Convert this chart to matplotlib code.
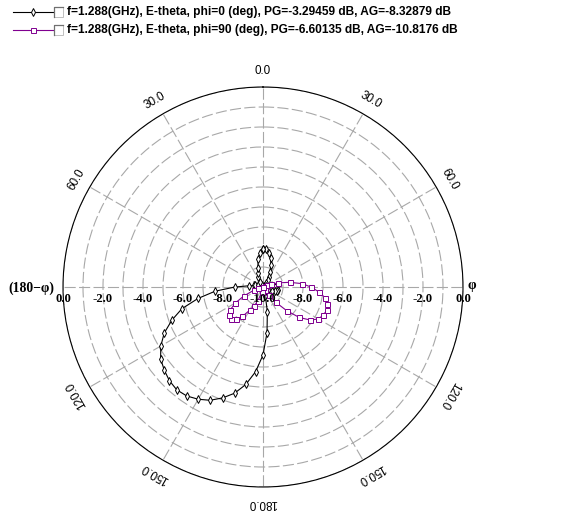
import numpy as np
import matplotlib
matplotlib.use("Agg")
import matplotlib.pyplot as plt
from matplotlib.lines import Line2D
from matplotlib.patches import Rectangle
from matplotlib.transforms import ScaledTranslation

# Pattern angle, clockwise from top (deg); right half = phi plane, left half = (180-phi)
angles_deg = np.arange(0, 360, 5)

# E-theta gain (dB), phi=0 cut
gain_phi0 = [
    -8.10, -8.10, -8.25, -8.50, -8.85, -9.15, -9.40, -9.60, -9.75, -9.90,
    -10.5, -11.0, -11.5, -11.0, -10.5, -9.85, -9.70, -9.50, -9.38, -9.30,
    -9.25, -9.28, -9.35, -9.50, -9.70, -9.90, -10.8, -11.5, -12.0, -11.5,
    -11.0, -10.5, -9.90, -9.55, -8.75, -7.70, -6.60, -5.75, -5.05, -4.50,
    -4.10, -3.75, -3.52, -3.35, -3.29, -3.38, -3.55, -3.75, -4.10, -4.55,
    -5.15, -5.80, -6.70, -7.60, -8.60, -9.30, -9.55, -9.60, -9.75, -10.3,
    -10.8, -11.2, -11.0, -10.6, -10.2, -9.90, -9.70, -9.45, -9.27, -9.03,
    -8.56, -8.30,
]

# E-theta gain (dB), phi=90 cut
gain_phi90 = [
    -11.5, -12.0, -12.5, -13.0, -12.5, -12.0, -11.5, -11.0, -10.7, -10.4,
    -10.2, -10.05, -9.90, -9.80, -9.60, -9.20, -8.65, -8.05, -7.60, -7.20,
    -6.83, -6.68, -6.60, -6.68, -6.80, -7.12, -7.63, -8.33, -9.00, -9.50,
    -9.80, -10.1, -10.5, -11.0, -11.5, -11.8, -11.5, -11.0, -10.4, -9.75,
    -9.28, -8.95, -8.65, -8.20, -7.90, -7.75, -7.80, -8.00, -8.40, -8.95,
    -9.50, -9.75, -10.2, -10.6, -11.0, -11.5, -12.0, -12.5, -13.0, -13.5,
    -14.0, -14.0, -13.5, -13.0, -12.5, -12.0, -11.8, -11.6, -11.5, -11.5,
    -11.5, -11.5,
]

legend_labels = [
    "f=1.288(GHz), E-theta, phi=0 (deg), PG=-3.29459 dB, AG=-8.32879 dB",
    "f=1.288(GHz), E-theta, phi=90 (deg), PG=-6.60135 dB, AG=-10.8176 dB",
]
series_colors = ["#000000", "#800090"]
series_markers = ["d", "s"]

r_min, r_max = -10.0, 0.0
ring_values = np.arange(-10, 1, 1)
radial_label_values = [0, -2, -4, -6, -8]
angle_label_values = [0, 30, 60, 120, 150, 180]

W, H = 565, 517
fig = plt.figure(figsize=(W / 100, H / 100), dpi=100)
fig.patch.set_facecolor("white")

# polar axes: centre (263, 287) px, radius 200 px
cx, cy, rad = 263, 287, 200
ax = fig.add_axes([(cx - rad) / W, (H - cy - rad) / H, 2 * rad / W, 2 * rad / H],
                  projection="polar")
ax.set_theta_zero_location("N")
ax.set_theta_direction(-1)
ax.set_rlim(r_min, r_max)
ax.set_rticks(ring_values)
ax.set_yticklabels([])
ax.set_thetagrids(np.arange(0, 360, 30), labels=[""] * 12)
ax.tick_params(axis="both", length=0, pad=0)
ax.grid(True, color="#A8A8A8", linewidth=0.8, linestyle=(0, (10, 3)))
ax.spines["polar"].set_color("black")
ax.spines["polar"].set_linewidth(0.8)
ax.set_facecolor("white")

gains = [gain_phi0, gain_phi90]
for g, col, mk in zip(gains, series_colors, series_markers):
    th = np.deg2rad(np.append(angles_deg, angles_deg[0]))
    rr = np.clip(np.append(g, g[0]), r_min, None)
    ax.plot(th, rr, color=col, linewidth=0.8, marker=mk, markersize=4 if mk == "d" else 3.6,
            markerfacecolor="white", markeredgecolor=col, markeredgewidth=0.7, zorder=3)

# radial (dB) labels along the horizontal axis, just below it
down = ax.transData + ScaledTranslation(0, -11.5 / 100, fig.dpi_scale_trans)
lab_font = dict(fontsize=9.2, fontweight="bold", family="Liberation Serif")
for v in radial_label_values:
    for side in (90, 270):
        ax.text(np.deg2rad(side), v, f"{v:.1f}", transform=down, ha="center", va="center",
                clip_on=False, **lab_font)
ax.text(0, r_min, "-10.0", transform=down, ha="center", va="center", clip_on=False, **lab_font)

# angle labels, rotated along the circle
r_lab = r_min + 215.5 / 20
for a in angle_label_values:
    for s in ([1] if a in (0, 180) else [1, -1]):
        ang = s * a
        ax.text(np.deg2rad(ang), r_lab, f"{a:.1f}", ha="center", va="center",
                rotation=-ang, rotation_mode="anchor", fontsize=8.4,
                family="Liberation Sans", clip_on=False)

fig.text(31 / W, 1 - 288 / H, "(180\u2212\u03c6)", ha="center", va="center",
         fontsize=9.8, fontweight="bold", family="Liberation Serif")
fig.text(472 / W, 1 - 286 / H, "\u03c6", ha="center", va="center",
         fontsize=10, fontweight="bold", family="Liberation Serif")

# legend rows at top-left
for i, (lab, col, mk) in enumerate(zip(legend_labels, series_colors, series_markers)):
    y = 1 - (12 + 18 * i) / H
    fig.add_artist(Line2D([13 / W, 53 / W], [y, y], color=col, linewidth=0.8,
                          transform=fig.transFigure))
    fig.add_artist(Line2D([33 / W], [y], color=col, marker=mk,
                          markersize=4 if mk == "d" else 3.6, markerfacecolor="white",
                          markeredgecolor=col, markeredgewidth=0.7, transform=fig.transFigure))
    bx0, by0 = 54 / W, 1 - (12 + 18 * i + 5) / H
    fig.add_artist(Rectangle((bx0, by0), 9 / W, 10 / H, facecolor="white",
                             edgecolor="#C0C0C0", linewidth=0.7, transform=fig.transFigure))
    fig.add_artist(Line2D([bx0, bx0, bx0 + 9 / W], [by0, by0 + 10 / H, by0 + 10 / H],
                          color="#707070", linewidth=0.9, transform=fig.transFigure))
    fig.text(67 / W, y, lab, ha="left", va="center", fontsize=8.55, fontweight="bold",
             family="Liberation Sans")

fig.savefig("out.png", dpi=100)
